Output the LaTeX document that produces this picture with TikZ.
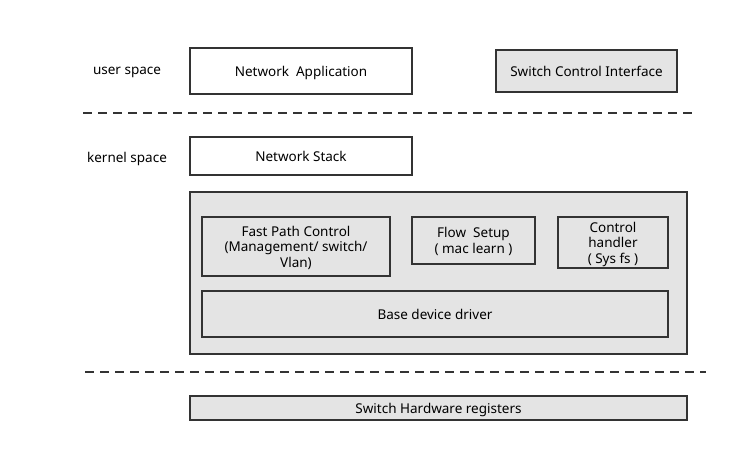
\documentclass[tikz,border=0pt]{standalone}
\usepackage{fontspec}
\setmainfont{Noto Sans}
\usetikzlibrary{calc}
\definecolor{boxgray}{HTML}{E4E4E4}
\definecolor{linegray}{HTML}{333333}

\begin{document}
\begin{tikzpicture}[x=1pt,y=-1pt,
  box/.style={draw=linegray,line width=1.5pt,inner sep=0pt,align=center,text depth=0pt,font=\fontsize{13.5}{15.5}\selectfont},
  grey/.style={box,fill=boxgray},
  lbl/.style={text depth=0pt,font=\fontsize{13.5}{16}\selectfont},
  sep/.style={draw=linegray,line width=1.5pt,dash pattern=on 9pt off 6pt}]
\useasboundingbox (0,0) rectangle (738,451);
% user space
\node[lbl] (user) at (127,71) {user space};
\node[box,minimum width=222pt,minimum height=46pt] (app) at (301,71) {Network~ Application};
\node[grey,minimum width=181pt,minimum height=42pt] (sci) at (586.5,71) {Switch Control Interface};
\coordinate (s1a) at (83,113); \coordinate (s1b) at (693,113);
\draw[sep] (s1a) -- (s1b);
% kernel space
\node[lbl] (kernel) at (127,157) {kernel space};
\node[box,minimum width=222pt,minimum height=38pt] (stack) at (301,156) {Network Stack};
\node[grey,minimum width=497pt,minimum height=162pt] (drv) at (438.5,273) {};
\node[grey,minimum width=188pt,minimum height=59pt] (fast) at (296,246.5) {Fast Path Control\\(Management/ switch/\\Vlan)};
\node[grey,minimum width=123pt,minimum height=47pt] (flow) at (473.5,240.5) {Flow~ Setup\\( mac learn )};
\node[grey,minimum width=110pt,minimum height=51pt] (ctrl) at (613,242.5) {Control\\handler\\( Sys fs )};
\node[grey,minimum width=466pt,minimum height=46pt] (base) at (435,314) {Base device driver};
\coordinate (s2a) at (85,372); \coordinate (s2b) at (706,372);
\draw[sep] (s2a) -- (s2b);
% hardware
\node[grey,minimum width=497pt,minimum height=24pt] (hw) at (438.5,408) {Switch Hardware registers};
\end{tikzpicture}
\end{document}
